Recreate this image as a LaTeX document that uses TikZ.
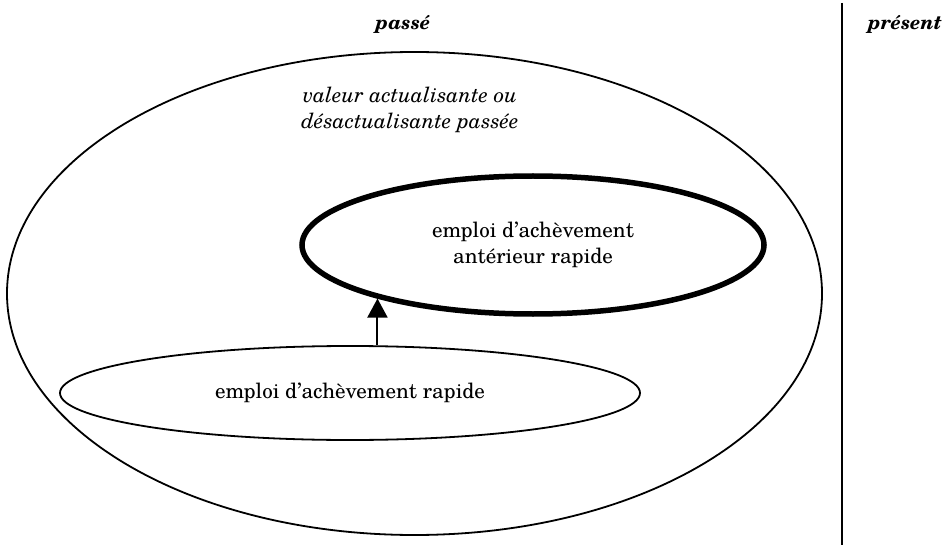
\documentclass[tikz,border=0pt]{standalone}
\usepackage{fontspec}
\setmainfont{texgyreschola}[Extension=.otf,
  UprightFont=*-regular, ItalicFont=*-italic,
  BoldFont=*-bold, BoldItalicFont=*-bolditalic]
\usetikzlibrary{shapes.geometric, arrows.meta}

\tikzset{
  oval/.style={ellipse, draw=black, inner sep=0pt},
  txt/.style={font=\fontsize{21}{26}\selectfont, align=center, inner sep=0pt},
  head/.style={font=\fontsize{19.5}{26}\selectfont\bfseries\itshape, inner sep=0pt},
  link/.style={line width=2pt, -{Triangle[width=20pt,length=19pt]}}
}

\begin{document}
\begin{tikzpicture}[x=1pt, y=-1pt]
  \useasboundingbox (0,0) rectangle (952,545);

  % period headings and the boundary between them
  \node[head] (passe) at (403,24) {passé};
  \node[head] (present) at (905,24) {présent};
  \draw[line width=2pt] (842,3) -- (842,545);

  % outer domain
  \node[oval, line width=1.8pt, minimum width=815pt, minimum height=483pt] (dom) at (414.5,293.5) {};
  \node[txt, font=\fontsize{21}{26}\selectfont\itshape] (val) at (410,110)
    {valeur actualisante ou\\désactualisante passée};

  % inner uses
  \node[oval, line width=5.5pt, minimum width=462pt, minimum height=138pt] (ant) at (533,245) {};
  \node[txt] (antlbl) at (ant.center) {emploi d'achèvement\\antérieur rapide};

  \node[oval, line width=1.8pt, minimum width=580pt, minimum height=94pt] (rap) at (350,393) {};
  \node[txt] (raplbl) at (rap.center) {emploi d'achèvement rapide};

  % derivation arrow
  \draw[link] (rap.north -| ant.199.5) -- (ant.199.5);
\end{tikzpicture}
\end{document}
